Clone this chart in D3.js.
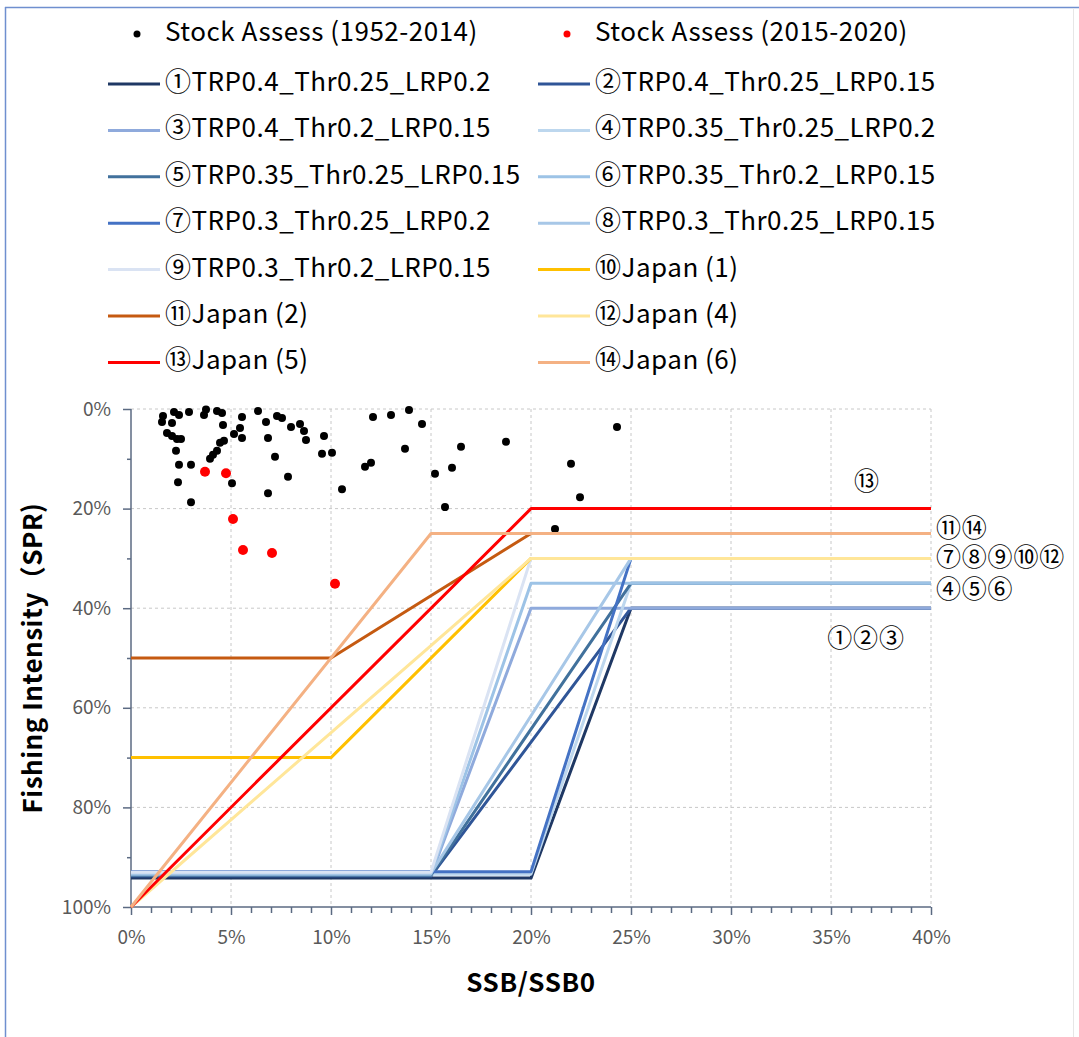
<!DOCTYPE html>
<html><head><meta charset="utf-8">
<script src="https://cdn.jsdelivr.net/npm/d3@7"></script>
<style>
html,body{margin:0;padding:0;background:#fff;}
svg{display:block;}
</style></head>
<body>
<script>
// ---------- DATA ----------
// Stock assessment points: [SSB/SSB0, fishing intensity (SPR)] in %
const stock1952_2014 = [
 [1.55,2.6],[1.6,1.4],[2.15,0.6],[2.4,1.2],[2.9,0.6],[2.05,2.8],[3.75,0.1],[3.65,1.2],[4.3,0.4],[4.55,0.8],
 [4.6,3.2],[1.8,4.8],[2.05,5.4],[2.3,6.0],[2.5,6.0],[2.25,8.4],[4.65,6.4],[4.45,6.8],[4.3,8.4],[4.1,9.2],
 [3.95,10.0],[2.4,11.2],[3.0,11.2],[2.35,14.7],[5.05,14.9],[3.0,18.7],[5.15,5.0],[5.55,1.6],[6.35,0.4],[5.45,3.8],
 [5.55,5.8],[6.75,2.6],[7.3,1.4],[7.55,1.8],[8.0,3.6],[8.45,3.0],[8.65,4.4],[8.75,6.2],[6.85,5.8],[9.65,5.4],
 [9.55,9.0],[10.05,8.8],[7.2,9.6],[7.85,13.6],[6.85,16.9],[10.55,16.1],[12.1,1.6],[13.0,1.2],[13.9,0.2],[14.55,3.0],
 [13.7,8.0],[12.0,10.8],[11.7,11.6],[15.2,13.0],[16.05,11.8],[16.5,7.6],[15.7,19.7],[18.75,6.6],[24.3,3.6],[22.0,11.0],
 [22.45,17.7],[21.2,24.1]
];
const stock2015_2020 = [[3.7,12.6],[4.75,12.9],[5.1,22.1],[5.6,28.3],[7.05,28.9],[10.2,35.1]];

// Harvest control rules: vertices [SSB/SSB0 %, fishing intensity %]
const ruleNames = [
 "①TRP0.4_Thr0.25_LRP0.2","②TRP0.4_Thr0.25_LRP0.15","③TRP0.4_Thr0.2_LRP0.15",
 "④TRP0.35_Thr0.25_LRP0.2","⑤TRP0.35_Thr0.25_LRP0.15","⑥TRP0.35_Thr0.2_LRP0.15",
 "⑦TRP0.3_Thr0.25_LRP0.2","⑧TRP0.3_Thr0.25_LRP0.15","⑨TRP0.3_Thr0.2_LRP0.15",
 "⑩Japan (1)","⑪Japan (2)","⑫Japan (4)","⑬Japan (5)","⑭Japan (6)"
];
const ruleColors = ["#1f3864","#2f5597","#8faadc","#bdd7ee","#41719c","#9dc3e6",
 "#4472c4","#a7c7e7","#dae3f3","#ffc000","#c55a11","#ffe699","#ff0000","#f4b183"];
const rulePoints = [
 [[0,94.2],[20,94.2],[25,40],[40,40]],
 [[0,93.8],[15,93.8],[25,40],[40,40]],
 [[0,93.6],[15,93.6],[20,40],[40,40]],
 [[0,93.4],[20,93.4],[25,35],[40,35]],
 [[0,93.6],[15,93.6],[25,35],[40,35]],
 [[0,93.4],[15,93.4],[20,35],[40,35]],
 [[0,92.9],[20,92.9],[25,30],[40,30]],
 [[0,93.2],[15,93.2],[25,30],[40,30]],
 [[0,93.0],[15,93.0],[20,30],[40,30]],
 [[0,70],[10,70],[20,30],[40,30]],
 [[0,50],[10,50],[20,25],[40,25]],
 [[0,100],[20,30],[40,30]],
 [[0,100],[20,20],[40,20]],
 [[0,100],[15,25],[40,25]]
];
const xTicks = [0,5,10,15,20,25,30,35,40];
const yTicks = [0,20,40,60,80,100];
const endLabels = ["⑬","⑪⑭","⑦⑧⑨⑩⑫","④⑤⑥","①②③"];

// ---------- CHART ----------
const W=1079,H=1037;
const svg=d3.select("body").append("svg").attr("width",W).attr("height",H);
const font="'Noto Sans CJK JP','Noto Sans',sans-serif";

// outer frame
svg.append("line").attr("x1",5).attr("x2",W).attr("y1",7.5).attr("y2",7.5).attr("stroke","#6f8fcf").attr("stroke-width",1.5);
svg.append("line").attr("x1",5.5).attr("x2",5.5).attr("y1",7).attr("y2",H).attr("stroke","#6f8fcf").attr("stroke-width",1.5);
svg.append("line").attr("x1",1073.5).attr("x2",1073.5).attr("y1",8).attr("y2",H).attr("stroke","#e6e6e6").attr("stroke-width",1);

const x=d3.scaleLinear().domain([0,40]).range([131,931]);
const y=d3.scaleLinear().domain([0,100]).range([409,907]);

// gridlines
const g=svg.append("g");
g.selectAll(".gx").data(xTicks.filter(d=>d>0)).join("line")
 .attr("x1",d=>x(d)).attr("x2",d=>x(d)).attr("y1",y(0)).attr("y2",y(100))
 .attr("stroke","#c8c8c8").attr("stroke-width",1).attr("stroke-dasharray","3,3");
g.selectAll(".gy").data(yTicks.filter(d=>d<100)).join("line")
 .attr("x1",x(0)).attr("x2",x(40)).attr("y1",d=>y(d)).attr("y2",d=>y(d))
 .attr("stroke","#c8c8c8").attr("stroke-width",1).attr("stroke-dasharray","3,3");

// axes
const axisColor="#5b6a82";
const yAxis=svg.append("g").attr("transform",`translate(${x(0)},0)`)
 .call(d3.axisLeft(y).tickValues(yTicks).tickFormat(d=>d+"%").tickSize(8).tickPadding(12));
const yMinor=svg.append("g").attr("transform",`translate(${x(0)},0)`)
 .call(d3.axisLeft(y).tickValues(d3.range(10,100,20)).tickFormat("").tickSize(4));
const xAxis=svg.append("g").attr("transform",`translate(0,${y(100)})`)
 .call(d3.axisBottom(x).tickValues(xTicks).tickFormat(d=>d+"%").tickSize(8).tickPadding(16));
const xMinor=svg.append("g").attr("transform",`translate(0,${y(100)})`)
 .call(d3.axisBottom(x).tickValues(d3.range(0,41,1).filter(d=>d%5!==0)).tickFormat("").tickSize(6));
[yAxis,yMinor,xAxis,xMinor].forEach(a=>{
 a.selectAll("path,line").attr("stroke",axisColor).attr("stroke-width",1.5);
 a.selectAll("text").attr("fill","#595959").attr("font-family",font).attr("font-size",19);
});
yMinor.select("path").remove(); xMinor.select("path").remove();
yAxis.select("path").attr("d",`M0,${y(0)}V${y(100)}`);
xAxis.select("path").attr("d",`M${x(0)},0H${x(40)}`);

// scatter (drawn first, under lines)
svg.append("g").selectAll("circle").data(stock1952_2014).join("circle")
 .attr("cx",d=>x(d[0])).attr("cy",d=>y(d[1])).attr("r",4).attr("fill","#000");
svg.append("g").selectAll("circle").data(stock2015_2020).join("circle")
 .attr("cx",d=>x(d[0])).attr("cy",d=>y(d[1])).attr("r",5).attr("fill","#ff0000");

// rule lines
const line=d3.line().x(d=>x(d[0])).y(d=>y(d[1]));
svg.append("g").selectAll("path").data(rulePoints).join("path")
 .attr("d",line).attr("fill","none").attr("stroke",(d,i)=>ruleColors[i])
 .attr("stroke-width",3).attr("stroke-linejoin","round");

// end labels: anchored to the flat end of the rule lines (TRP levels 20,25,30,35,40)
const endLevels=[20,25,30,35,40];
const endPos=[{dx:-64,dy:-25,a:"middle"},{dx:5,dy:-3,a:"start"},{dx:5,dy:1,a:"start"},{dx:5,dy:8,a:"start"},{dx:-65,dy:32,a:"middle"}];
svg.append("g").selectAll("text").data(endLabels).join("text")
 .attr("x",(d,i)=>x(40)+endPos[i].dx).attr("y",(d,i)=>y(endLevels[i])+endPos[i].dy)
 .attr("text-anchor",(d,i)=>endPos[i].a).attr("dominant-baseline","middle")
 .attr("font-family",font).attr("font-size",25).attr("letter-spacing",0.8).attr("fill","#000").text(d=>d);

// axis titles
svg.append("text").attr("x",x(20)).attr("y",985).attr("text-anchor","middle").attr("dominant-baseline","middle")
 .attr("font-family",font).attr("font-weight","bold").attr("font-size",26).attr("letter-spacing",0.6).attr("fill","#000").text("SSB/SSB0");
svg.append("text").attr("transform",`translate(35,${y(50)}) rotate(-90)`).attr("text-anchor","middle")
 .attr("dominant-baseline","middle").attr("font-family",font).attr("font-weight","bold").attr("font-size",26)
 .attr("letter-spacing",0.5).attr("fill","#000").text("Fishing Intensity（SPR)");

// legend
const leg=svg.append("g").attr("font-family",font).attr("font-size",26).attr("letter-spacing",0.5).attr("fill","#000");
const colX=[108,538];
const scatterLegend=[{name:"Stock Assess (1952-2014)",color:"#000"},{name:"Stock Assess (2015-2020)",color:"#ff0000"}];
scatterLegend.forEach((s,i)=>{
 leg.append("circle").attr("cx",colX[i]+29).attr("cy",34).attr("r",3.5).attr("fill",s.color);
 leg.append("text").attr("x",colX[i]+57).attr("y",34).attr("dominant-baseline","middle").text(s.name);
});
ruleNames.forEach((n,i)=>{
 const c=i%2, r=Math.floor(i/2);
 const yy=84+r*46.4;
 leg.append("line").attr("x1",colX[c]).attr("x2",colX[c]+52).attr("y1",yy).attr("y2",yy)
  .attr("stroke",ruleColors[i]).attr("stroke-width",3);
 leg.append("text").attr("x",colX[c]+57).attr("y",yy).attr("dominant-baseline","middle").text(n);
});
</script>
</body></html>
